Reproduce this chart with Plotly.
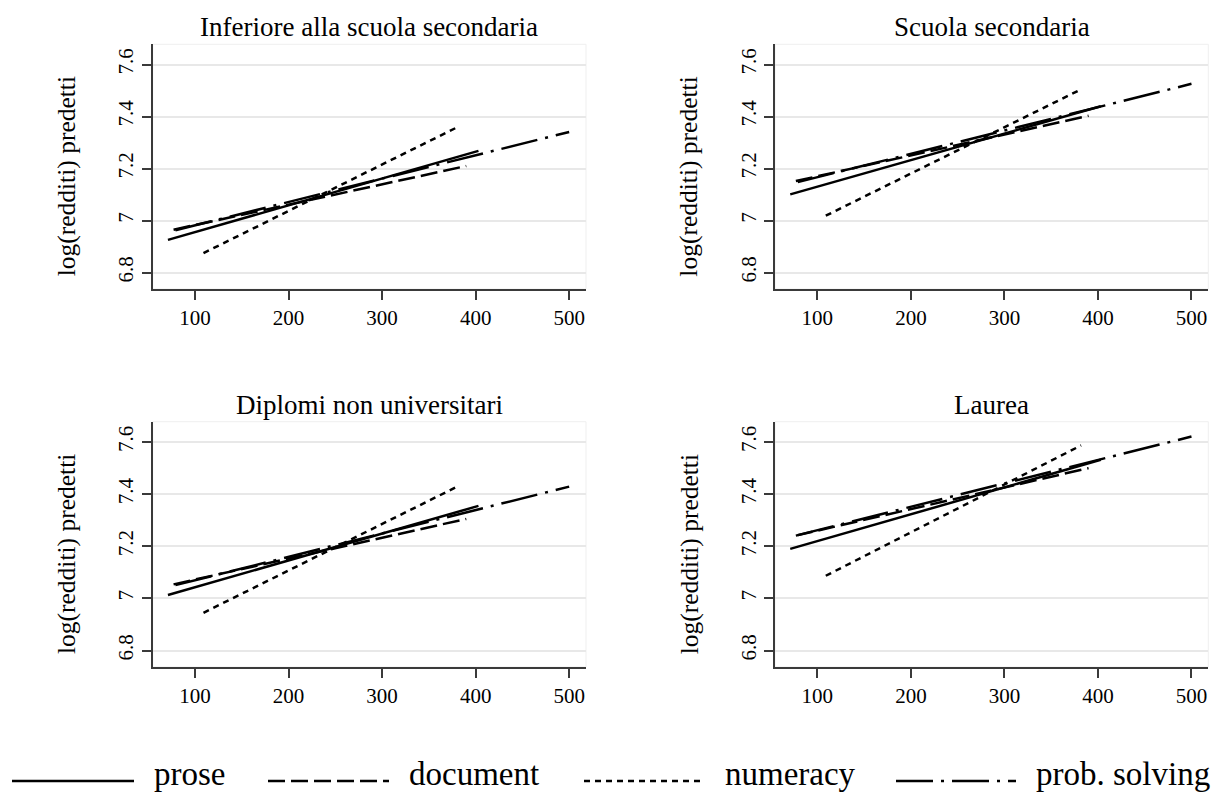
import plotly.graph_objects as go

# ---------------- data ----------------
panel_titles = ["Inferiore alla scuola secondaria", "Scuola secondaria",
                "Diplomi non universitari", "Laurea"]
measures = ["prose", "document", "numeracy", "prob. solving"]

# score range covered by each measure (start, end)
prose_x = [71, 403]
document_x = [77, 390]
numeracy_x = [109, 382]
probsolving_x = [79, 500]

# predicted log earnings at start / end of each line, per panel
prose_y = [[6.926, 7.268], [7.101, 7.440], [7.013, 7.355], [7.190, 7.532]]
document_y = [[6.965, 7.210], [7.152, 7.403], [7.054, 7.305], [7.241, 7.500]]
numeracy_y = [[6.875, 7.362], [7.019, 7.505], [6.945, 7.432], [7.087, 7.587]]
probsolving_y = [[6.963, 7.341], [7.148, 7.526], [7.051, 7.429], [7.243, 7.621]]

x_ticks = [100, 200, 300, 400, 500]
y_ticks = [6.8, 7.0, 7.2, 7.4, 7.6]
y_ticklabels = ["6.8", "7", "7.2", "7.4", "7.6"]
y_title = "log(redditi) predetti"

# ---------------- style ----------------
W, H = 1221, 794
FONT = "Liberation Serif"
INK = "#000000"
AXIS = "#3a3a3a"
GRID = "#e8e8e8"
styles = {
    "prose": dict(dash="solid"),
    "document": dict(dash="17px,6px"),
    "numeracy": dict(dash="6px,5px"),
    "prob. solving": dict(dash="37px,8px,3px,8px"),
}
series = [
    ("prose", prose_x, prose_y),
    ("document", document_x, document_y),
    ("numeracy", numeracy_x, numeracy_y),
    ("prob. solving", probsolving_x, probsolving_y),
]

# panel plot areas in pixels (left, right, top, bottom)
boxes = [(152.7, 586.0, 44.3, 289.0), (775.0, 1208.3, 44.3, 289.0),
         (152.7, 586.0, 421.7, 667.0), (775.0, 1208.3, 421.7, 667.0)]

fig = go.Figure()
layout = dict(width=W, height=H, margin=dict(l=0, r=0, t=0, b=0),
              paper_bgcolor="white", plot_bgcolor="white",
              showlegend=False, font=dict(family=FONT, color=INK))

annotations = []
shapes = []
for i, (l, r, t, b) in enumerate(boxes):
    k = "" if i == 0 else str(i + 1)
    xd = [l / W, r / W]
    yd = [1 - b / H, 1 - t / H]
    layout["xaxis" + k] = dict(
        domain=xd, anchor="y" + k, range=[54.7, 518], tickvals=x_ticks,
        showgrid=False, zeroline=False, showline=True, linecolor=AXIS,
        linewidth=2, ticks="outside", ticklen=9, tickwidth=1.5, tickcolor=AXIS,
        tickfont=dict(family=FONT, size=21, color=INK))
    layout["yaxis" + k] = dict(
        domain=yd, anchor="x" + k, range=[6.737, 7.678], tickvals=y_ticks,
        ticktext=y_ticklabels, tickangle=-90,
        showgrid=True, gridcolor=GRID, gridwidth=2, zeroline=False,
        showline=True, linecolor=AXIS, linewidth=2, ticks="outside",
        ticklen=9, tickwidth=1.5, tickcolor=AXIS,
        tickfont=dict(family=FONT, size=21, color=INK))
    # faint frame on top and right
    shapes.append(dict(type="rect", xref="x%s domain" % k, yref="y%s domain" % k,
                       x0=0, x1=1, y0=0, y1=1, line=dict(color="#efefef", width=1),
                       layer="below"))
    for name, xs, ys in series:
        fig.add_trace(go.Scatter(
            x=xs, y=ys[i], mode="lines", name=name,
            xaxis="x" + k, yaxis="y" + k,
            line=dict(color=INK, width=2.5, dash=styles[name]["dash"])))
    annotations.append(dict(text=panel_titles[i], xref="paper", yref="paper",
                            x=(l + r) / 2 / W, y=1 - (t - 17) / H,
                            xanchor="center", yanchor="middle", showarrow=False,
                            font=dict(family=FONT, size=27, color=INK)))
    annotations.append(dict(text=y_title, xref="paper", yref="paper",
                            x=(l - 86) / W, y=1 - ((t + b) / 2 + 10) / H,
                            textangle=-90,
                            xanchor="center", yanchor="middle", showarrow=False,
                            font=dict(family=FONT, size=25.5, color=INK)))

# legend (bottom row)
leg_y = 1 - 781 / H
leg_items = [(12, 134, 153), (268, 389, 408), (584, 704, 724), (896, 1016, 1035)]
for name, (x0, x1, xt) in zip(measures, leg_items):
    shapes.append(dict(type="line", xref="paper", yref="paper",
                       x0=x0 / W, x1=x1 / W, y0=leg_y, y1=leg_y,
                       line=dict(color=INK, width=2.5, dash=styles[name]["dash"])))
    annotations.append(dict(text=name, xref="paper", yref="paper",
                            x=xt / W, y=1 - 793 / H, xanchor="left",
                            yanchor="bottom", showarrow=False, borderpad=0,
                            font=dict(family=FONT, size=33, color=INK)))

layout["annotations"] = annotations
layout["shapes"] = shapes
fig.update_layout(**layout)
fig.write_html("out.html")
